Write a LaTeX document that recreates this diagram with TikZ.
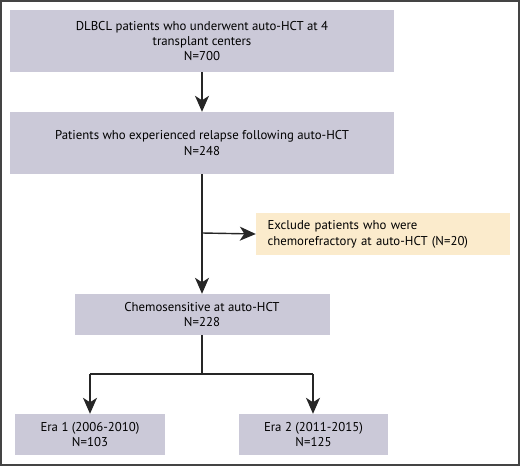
\documentclass[tikz,border=0pt]{standalone}
\usepackage{fontspec}
\setmainfont{PT Sans}
\usetikzlibrary{arrows.meta}
\definecolor{boxgray}{HTML}{CBC9D8}
\definecolor{boxtan}{HTML}{FBEBCC}
\definecolor{frame}{HTML}{444444}
\begin{document}
\begin{tikzpicture}[x=1pt,y=-1pt,
  gbox/.style={fill=boxgray, draw=none, inner sep=0pt, align=center, font=\fontsize{12.8}{15.4}\selectfont},
  tbox/.style={fill=boxtan, draw=none, inner sep=0pt, font=\fontsize{12.8}{16}\selectfont},
  conn/.style={line width=1.4pt, draw=black!85},
  arr/.style={conn, -{Stealth[length=16pt,width=14pt,inset=4.5pt]}}]
\useasboundingbox (0,0) rectangle (520,466);
\draw[frame, line width=2pt] (1,1) rectangle (519,465);
% boxes
\node[gbox, minimum width=384pt, minimum height=62pt] (b1) at (202,41)
  {DLBCL patients who underwent auto-HCT at 4\\transplant centers\\N=700};
\node[gbox, minimum width=384pt, minimum height=62pt] (b2) at (202,143)
  {Patients who experienced relapse following auto-HCT\\N=248};
\node[tbox, minimum width=254pt, minimum height=42pt, text width=231pt, align=left] (ex) at (383,234)
  {Exclude patients who were\\chemorefractory at auto-HCT (N=20)};
\node[gbox, minimum width=255pt, minimum height=41pt] (b3) at (202,314.5)
  {Chemosensitive at auto-HCT\\N=228};
\node[gbox, minimum width=150pt, minimum height=41pt] (b4) at (90,434.5)
  {Era 1 (2006-2010)\\N=103};
\node[gbox, minimum width=149pt, minimum height=41pt] (b5) at (313.5,434.5)
  {Era 2 (2011-2015)\\N=125};
% connectors
\coordinate (j1) at (202,233);
\coordinate (j2) at (202,374);
\coordinate (l4) at (90,374);
\coordinate (l5) at (313,374);
\draw[arr] (b1.south) -- (b2.north);
\draw[arr] (b2.south) -- (b3.north);
\draw[arr] (j1) -- (ex.west);
\draw[conn] (b3.south) -- (j2);
\draw[conn] (l4) -- (l5);
\draw[arr] (l4) -- (b4.north);
\draw[arr] (l5) -- (l5 |- b5.north);
\end{tikzpicture}
\end{document}
